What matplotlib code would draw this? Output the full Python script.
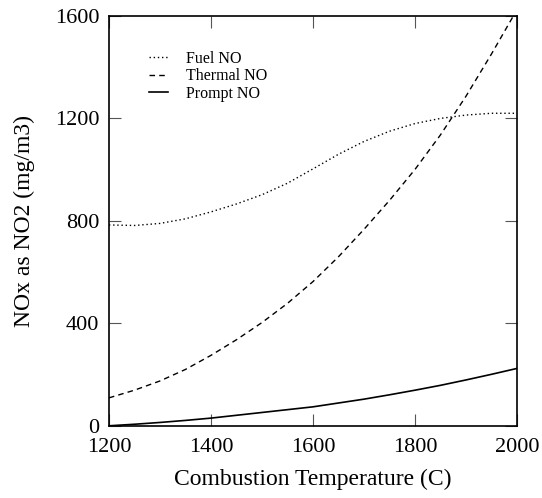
import matplotlib
matplotlib.use("Agg")
import matplotlib.pyplot as plt

plt.rcParams['font.family'] = ['Liberation Serif', 'DejaVu Serif']

# combustion temperature (C)
temp = [1200, 1250, 1300, 1350, 1400, 1450, 1500, 1550, 1600,
        1650, 1700, 1750, 1800, 1850, 1900, 1950, 2000]

# NOx as NO2 (mg/m3)
fuel = [784, 782, 790, 808, 835, 866, 902, 947, 1003,
        1060, 1110, 1150, 1180, 1200, 1213, 1220, 1220]
thermal = [109, 139, 175, 220, 275, 336, 403, 478, 563,
           660, 767, 880, 1001, 1136, 1287, 1452, 1625]
prompt = [0, 6, 13, 21, 30, 41, 52, 63, 74,
          89, 104, 121, 139, 158, 179, 201, 224]

xticks = [1200, 1400, 1600, 1800, 2000]
yticks = [0, 400, 800, 1200, 1600]

fig = plt.figure(figsize=(5.42, 4.98), dpi=100)
ax = fig.add_axes([0.201, 0.145, 0.753, 0.823])

ax.plot(temp, fuel, color='black', lw=1.0, ls=(0, (1, 2)), label='Fuel NO')
ax.plot(temp, thermal, color='black', lw=1.0, ls=(0, (4, 3)), label='Thermal NO')
ax.plot(temp, prompt, color='black', lw=1.2, ls='-', label='Prompt NO')

ax.set_xlim(1200, 2000)
ax.set_ylim(0, 1600)
ax.set_xticks(xticks)
ax.set_yticks(yticks)
ax.tick_params(direction='in', length=8.5, width=0.8, color='#555555',
               top=True, right=True, labelsize=16)
ax.tick_params(axis='x', pad=9)
ax.tick_params(axis='y', pad=7)
for s in ax.spines.values():
    s.set_linewidth(1.2)

ax.set_xlabel('Combustion Temperature (C)', fontsize=17, labelpad=8)
ax.set_ylabel('NOx as NO2 (mg/m3)', fontsize=17, labelpad=14)

ax.legend(loc='upper left', bbox_to_anchor=(0.098, 0.915), frameon=False,
          fontsize=11.5, handlelength=1.2, handletextpad=1.1,
          labelspacing=0.1, borderpad=0, borderaxespad=0)

fig.savefig('out.png', dpi=100)
